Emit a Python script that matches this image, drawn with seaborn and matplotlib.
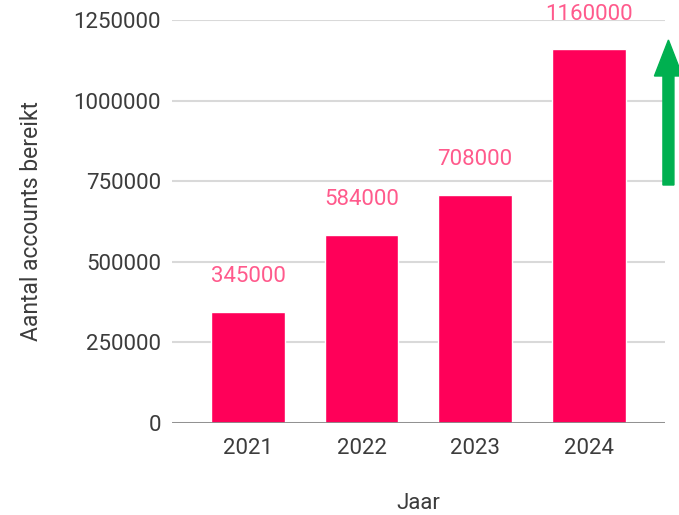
import matplotlib
matplotlib.use('Agg')

import pandas as pd
import seaborn as sns
from matplotlib import pyplot as plt
from matplotlib.patches import FancyArrow

jaren = ['2021', '2022', '2023', '2024']
accounts = [345000, 584000, 708000, 1160000]
yticks = [0, 250000, 500000, 750000, 1000000, 1250000]

sns.set_style('white')
plt.rcParams['font.family'] = ['Roboto', 'DejaVu Sans']

df = pd.DataFrame({'Jaar': jaren, 'Aantal accounts bereikt': accounts})

fig = plt.figure(figsize=(6.79, 5.15), dpi=100)
ax = fig.add_axes([0.2533, 0.1786, 0.979 - 0.2533, 0.961 - 0.1786])

sns.barplot(data=df, x='Jaar', y='Aantal accounts bereikt', color='#ff0059',
            saturation=1, width=0.65, ax=ax, zorder=3)

# waarden boven de balken
for i, v in enumerate(accounts):
    ax.text(i, v + 108000, str(v), ha='center', va='center', fontsize=16,
            color='#ff5a8c', clip_on=False, zorder=4)

ax.set_xlim(-0.67, 3.67)
ax.set_ylim(0, 1250000)
ax.set_yticks(yticks)
ax.set_yticklabels([str(t) for t in yticks])
ax.yaxis.grid(True, color='#d9d9d9', linewidth=1.5, zorder=0)
ax.axhline(0, color='#8a8a8a', linewidth=2, zorder=5)
for s in ax.spines.values():
    s.set_visible(False)
ax.tick_params(axis='both', length=0, labelsize=16, labelcolor='#3c3c3c')
ax.tick_params(axis='y', pad=8)
ax.tick_params(axis='x', pad=11)
ax.set_xlabel('Jaar', fontsize=16, color='#3c3c3c', labelpad=24)
ax.set_ylabel('Aantal accounts bereikt', fontsize=16.5, color='#3c3c3c', labelpad=22)

# groene pijl omhoog
arrow = FancyArrow(663 / 679 + 0.008, 1 - 185 / 515, 0, (185 - 40) / 515,
                   width=11 / 679, head_width=28 / 679, head_length=36 / 515,
                   length_includes_head=True, color='#00b050',
                   transform=fig.transFigure, figure=fig)
fig.patches.append(arrow)

plt.savefig('out.png', dpi=100)
